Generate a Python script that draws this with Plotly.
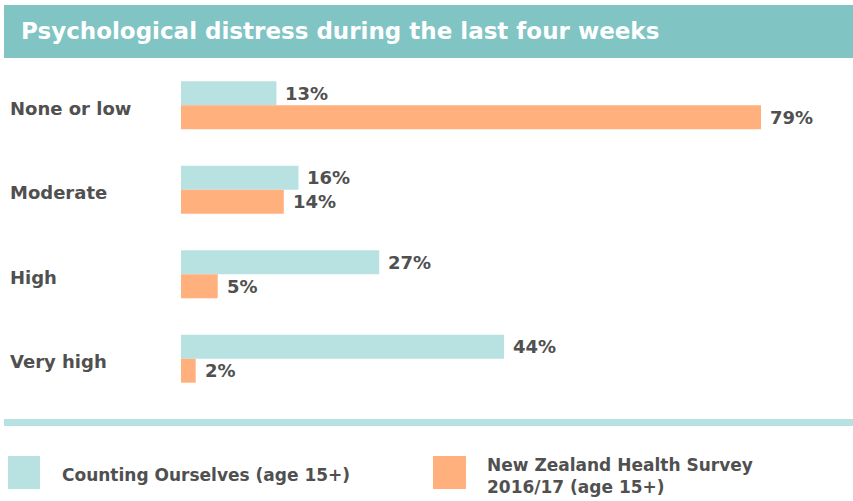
import plotly.graph_objects as go

categories = ["None or low", "Moderate", "High", "Very high"]
counting_ourselves = [13, 16, 27, 44]
nz_health_survey = [79, 14, 5, 2]
series_names = ["Counting Ourselves (age 15+)", "New Zealand Health Survey<br>2016/17 (age 15+)"]
title_text = "Psychological distress during the last four weeks"

TEAL = "#B8E2E2"
ORANGE = "#FFB07C"
HEADER = "#80C4C4"
TEXT = "#505050"
FONT = "DejaVu Sans"

W, H = 853, 501
ML, MR, MT, MB = 181, 0, 63, 100
PW = W - ML - MR
PH = H - MT - MB
PX_PER_PCT = 580 / 79.0


def px_x(px):
    return (px - ML) / PW


def px_y(py):
    return (H - MB - py) / PH


fig = go.Figure()
fig.add_trace(go.Bar(y=categories, x=counting_ourselves, orientation="h",
                     marker=dict(color=TEAL, line=dict(width=0)), name=series_names[0],
                     hoverinfo="x+y"))
fig.add_trace(go.Bar(y=categories, x=nz_health_survey, orientation="h",
                     marker=dict(color=ORANGE, line=dict(width=0)), name=series_names[1],
                     hoverinfo="x+y"))

annotations = []
for cat, v in zip(categories, counting_ourselves):
    annotations.append(dict(x=v, y=cat, xref="x", yref="y", text=f"{v}%", showarrow=False,
                            xanchor="left", yanchor="middle", xshift=7, yshift=12,
                            font=dict(family=FONT, size=18, color=TEXT, weight="bold")))
for cat, v in zip(categories, nz_health_survey):
    annotations.append(dict(x=v, y=cat, xref="x", yref="y", text=f"{v}%", showarrow=False,
                            xanchor="left", yanchor="middle", xshift=7, yshift=-12,
                            font=dict(family=FONT, size=18, color=TEXT, weight="bold")))
# category labels, left aligned
for cat in categories:
    annotations.append(dict(x=px_x(8), y=cat, xref="paper", yref="y", text=cat, showarrow=False,
                            xanchor="left", yanchor="middle", yshift=-3,
                            font=dict(family=FONT, size=18, color=TEXT, weight="bold")))
# title
annotations.append(dict(x=px_x(19), y=px_y(31), xref="paper", yref="paper", text=title_text,
                        showarrow=False, xanchor="left", yanchor="middle",
                        font=dict(family=FONT, size=23, color="white", weight="bold")))
# legend texts
annotations.append(dict(x=px_x(60), y=px_y(475), xref="paper", yref="paper", text=series_names[0],
                        showarrow=False, xanchor="left", yanchor="middle",
                        font=dict(family=FONT, size=17, color=TEXT, weight="bold")))
annotations.append(dict(x=px_x(485), y=px_y(476), xref="paper", yref="paper", text=series_names[1],
                        showarrow=False, xanchor="left", yanchor="middle", align="left",
                        font=dict(family=FONT, size=17, color=TEXT, weight="bold")))

shapes = [
    dict(type="rect", xref="paper", yref="paper", x0=px_x(4), x1=px_x(853), y0=px_y(5), y1=px_y(58),
         fillcolor=HEADER, line=dict(width=0), layer="below"),
    dict(type="rect", xref="paper", yref="paper", x0=px_x(4), x1=px_x(853), y0=px_y(419), y1=px_y(426),
         fillcolor=TEAL, line=dict(width=0), layer="below"),
    dict(type="rect", xref="paper", yref="paper", x0=px_x(8), x1=px_x(40), y0=px_y(456), y1=px_y(489),
         fillcolor=TEAL, line=dict(width=0)),
    dict(type="rect", xref="paper", yref="paper", x0=px_x(433), x1=px_x(466), y0=px_y(456), y1=px_y(489),
         fillcolor=ORANGE, line=dict(width=0)),
]

fig.update_layout(
    width=W, height=H,
    margin=dict(l=ML, r=MR, t=MT, b=MB, pad=0),
    paper_bgcolor="white", plot_bgcolor="white",
    barmode="group", bargap=0.433, bargroupgap=0,
    showlegend=False,
    xaxis=dict(range=[0, PW / PX_PER_PCT], visible=False, fixedrange=True),
    yaxis=dict(autorange="reversed", showticklabels=False, showgrid=False, zeroline=False,
               showline=False, ticks="", fixedrange=True),
    annotations=annotations,
    shapes=shapes,
    font=dict(family=FONT),
)

fig.write_html("out.html", config={"displayModeBar": False},
               post_script="document.body.style.margin='0';document.body.style.overflow='hidden';")
